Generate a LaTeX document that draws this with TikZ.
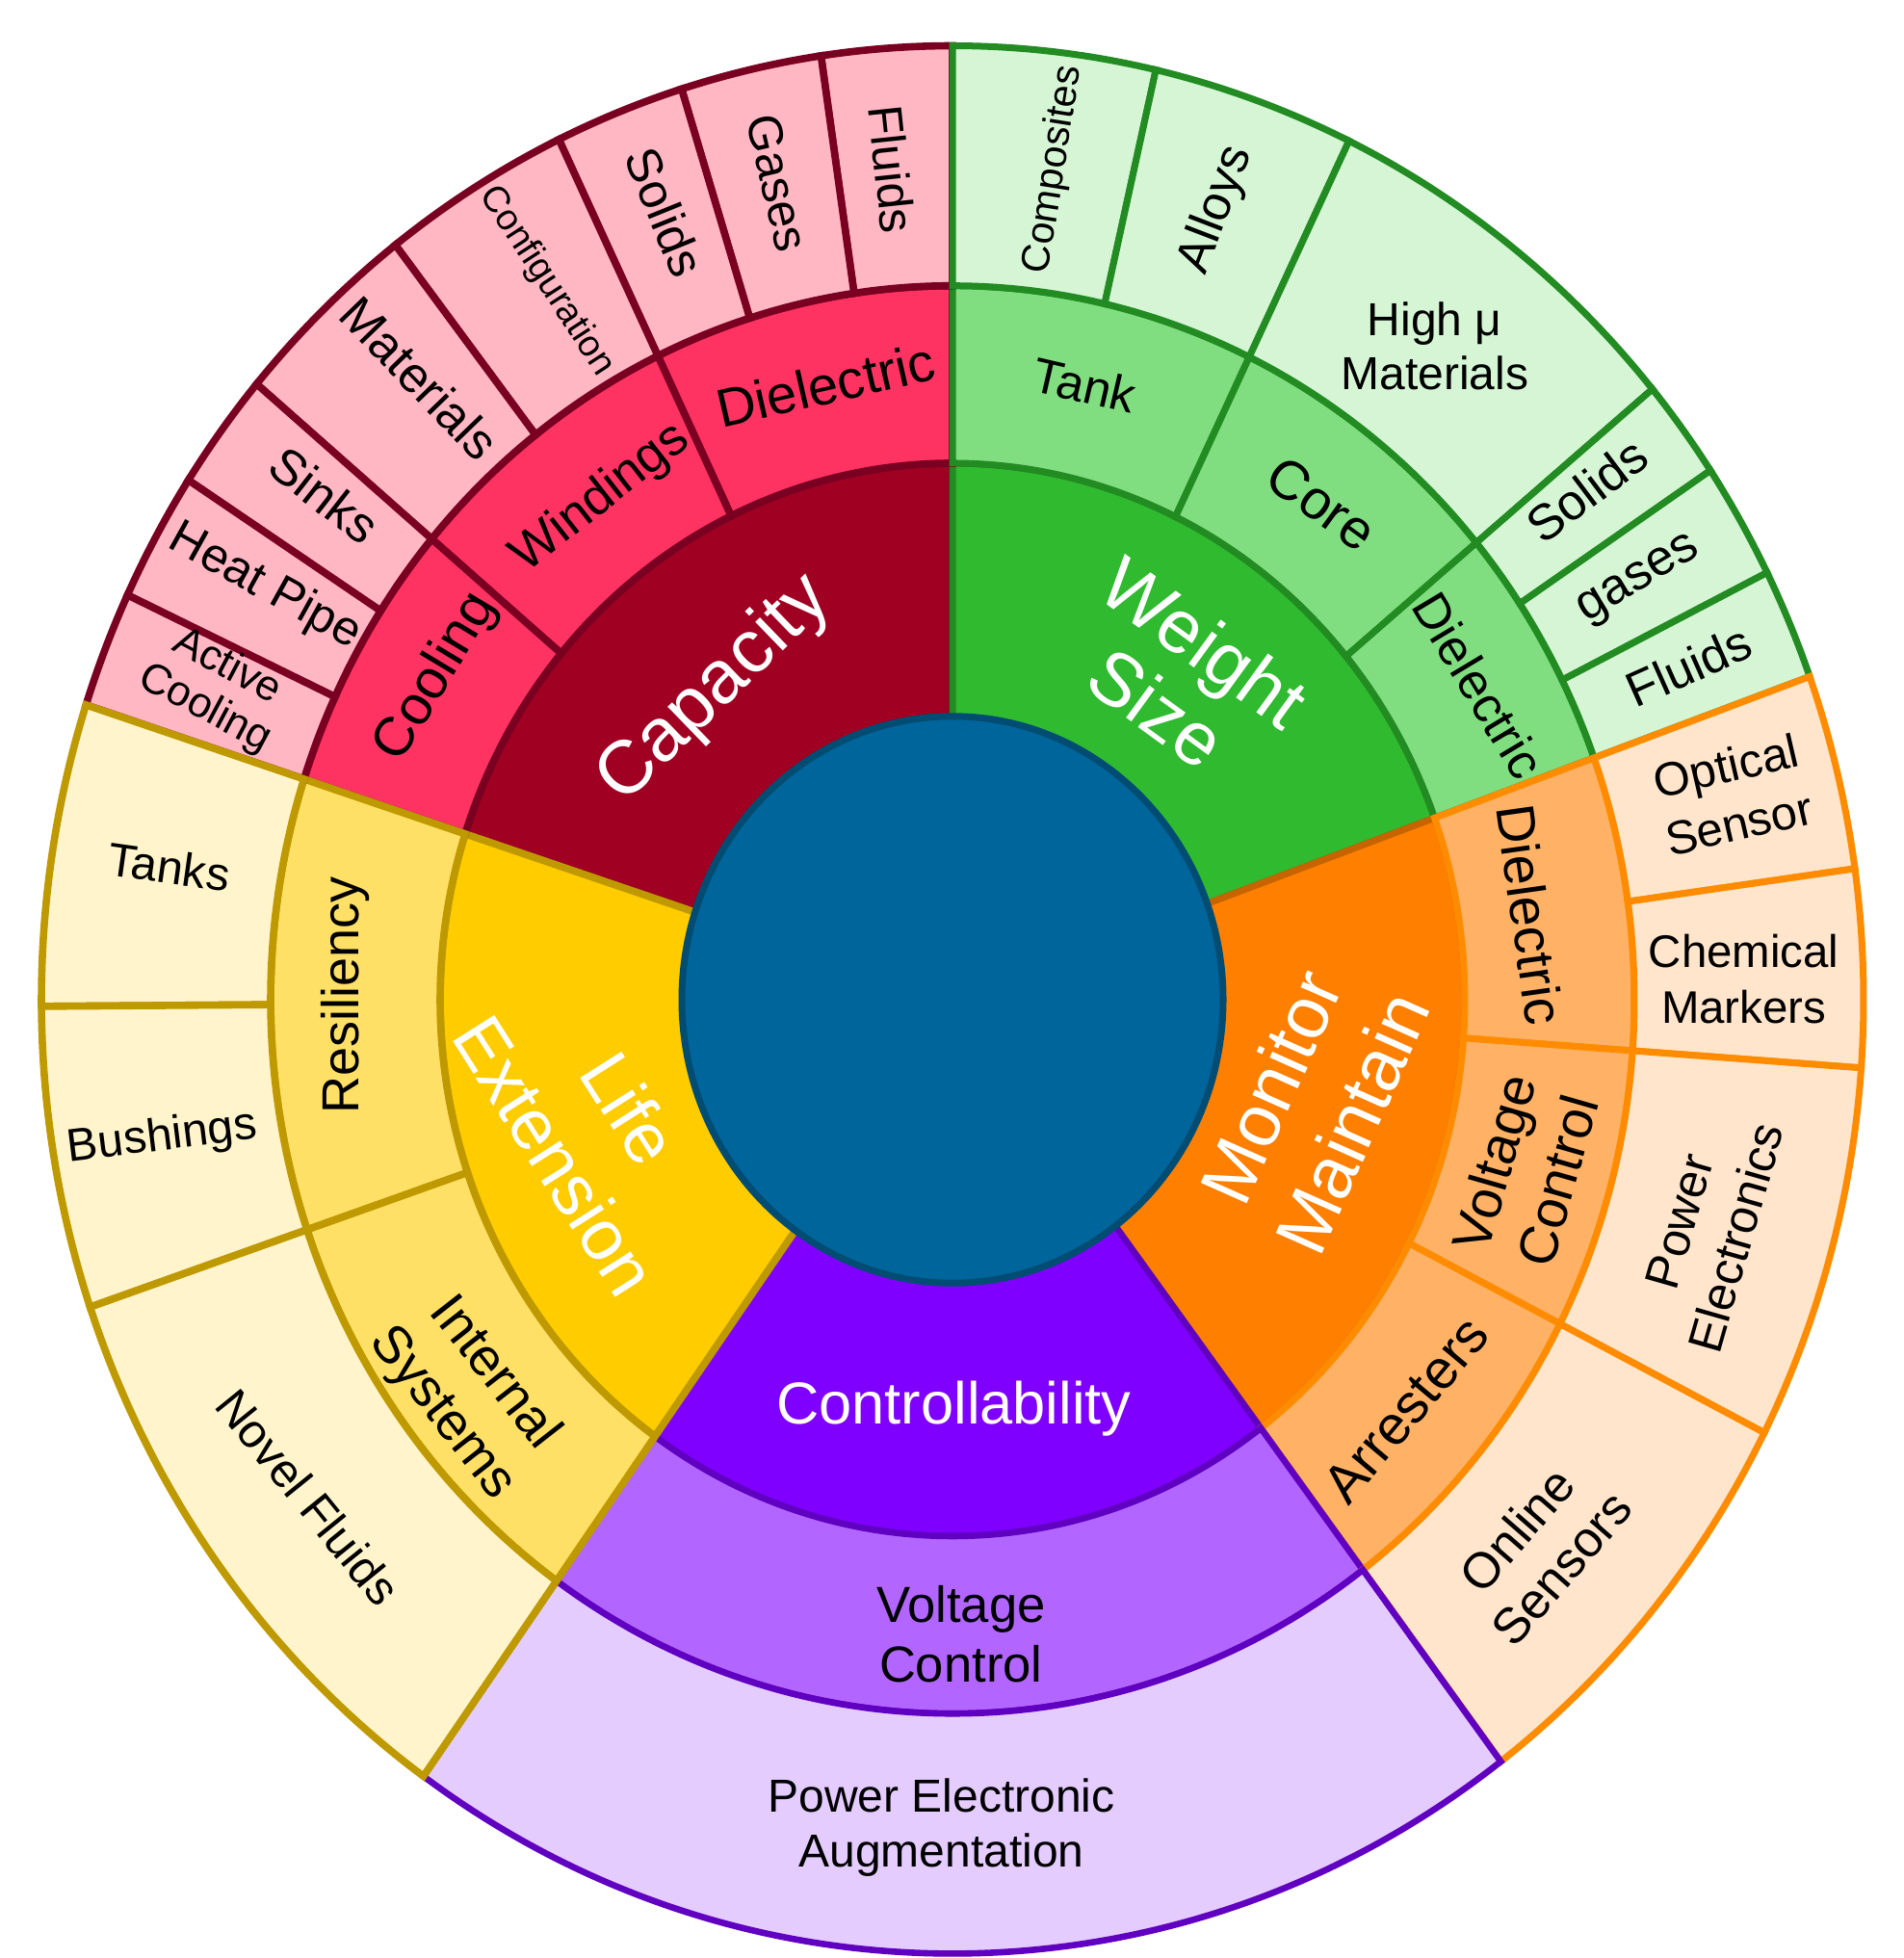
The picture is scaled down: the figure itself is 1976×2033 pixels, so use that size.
\documentclass[tikz,border=0pt]{standalone}
\usepackage{fontspec}
\setmainfont{Liberation Sans}
\definecolor{capA}{HTML}{A00021}
\definecolor{capB}{HTML}{FF3362}
\definecolor{capC}{HTML}{FFB7C3}
\definecolor{capL}{HTML}{7A0021}
\definecolor{wtA}{HTML}{30BA30}
\definecolor{wtB}{HTML}{80DD80}
\definecolor{wtC}{HTML}{D5F5D5}
\definecolor{wtL}{HTML}{228B22}
\definecolor{monA}{HTML}{FF8000}
\definecolor{monB}{HTML}{FFB266}
\definecolor{monC}{HTML}{FFE5CC}
\definecolor{monL}{HTML}{FF8C00}
\definecolor{monD}{HTML}{C86400}
\definecolor{ctlA}{HTML}{8000FF}
\definecolor{ctlB}{HTML}{B266FF}
\definecolor{ctlC}{HTML}{E5CCFF}
\definecolor{ctlL}{HTML}{6000C0}
\definecolor{lifA}{HTML}{FFCC00}
\definecolor{lifB}{HTML}{FFE066}
\definecolor{lifC}{HTML}{FFF4CC}
\definecolor{lifL}{HTML}{BF9900}
\definecolor{ctrF}{HTML}{00659A}
\definecolor{ctrL}{HTML}{004C73}
\newcommand\seg[5]{\path[#1] (#4:#2) arc[start angle=#4,end angle=#5,radius=#2] -- (#5:#3) arc[start angle=#5,end angle=#4,radius=#3] -- cycle;}
\begin{document}
\begin{tikzpicture}[x=0.5pt,y=0.5pt,
  cA/.style={fill=capA,draw=capL,line width=3.8pt},
  cB/.style={fill=capB,draw=capL,line width=3.8pt},
  cC/.style={fill=capC,draw=capL,line width=3.8pt},
  wA/.style={fill=wtA,draw=wtL,line width=3.5pt},
  wB/.style={fill=wtB,draw=wtL,line width=3.5pt},
  wC/.style={fill=wtC,draw=wtL,line width=3.5pt},
  mA/.style={fill=monA,draw=monD,line width=3.5pt},
  mB/.style={fill=monB,draw=monL,line width=3.5pt},
  mC/.style={fill=monC,draw=monL,line width=3.5pt},
  kA/.style={fill=ctlA,draw=ctlL,line width=3.3pt},
  kB/.style={fill=ctlB,draw=ctlL,line width=3.3pt},
  kC/.style={fill=ctlC,draw=ctlL,line width=3.3pt},
  lA/.style={fill=lifA,draw=lifL,line width=3.8pt},
  lB/.style={fill=lifB,draw=lifL,line width=3.8pt},
  lC/.style={fill=lifC,draw=lifL,line width=3.8pt},
  lbl/.style={inner sep=0pt,align=center,text=black},
  wlbl/.style={inner sep=0pt,align=center,text=white}]
\useasboundingbox (0,0) rectangle (1976,2033);
\begin{scope}[shift={(989,995)},yscale=1.047]
% ring 1
\seg{cA}{200}{532}{90}{162}
\seg{wA}{200}{532}{19.8}{90}
\seg{mA}{200}{532}{-53}{19.8}
\seg{kA}{200}{532}{-125.5}{-53}
\seg{lA}{200}{532}{162}{234.5}
% ring 2
\seg{cB}{532}{708}{90}{115.6}
\seg{cB}{532}{708}{115.6}{139.8}
\seg{cB}{532}{708}{139.8}{162}
\seg{wB}{532}{708}{64.2}{90}
\seg{wB}{532}{708}{39.8}{64.2}
\seg{wB}{532}{708}{19.8}{39.8}
\seg{mB}{532}{708}{-4.1}{19.8}
\seg{mB}{532}{708}{-27}{-4.1}
\seg{mB}{532}{708}{-53}{-27}
\seg{kB}{532}{708}{-125.5}{-53}
\seg{lB}{532}{708}{162}{198.8}
\seg{lB}{532}{708}{198.8}{234.5}
% ring 3
\seg{cC}{708}{946}{90}{98.3}
\seg{cC}{708}{946}{98.3}{107.3}
\seg{cC}{708}{946}{107.3}{115.6}
\seg{cC}{708}{946}{115.6}{127.7}
\seg{cC}{708}{946}{127.7}{139.8}
\seg{cC}{708}{946}{139.8}{147}
\seg{cC}{708}{946}{147}{154.9}
\seg{cC}{708}{946}{154.9}{162}
\seg{wC}{708}{946}{77.1}{90}
\seg{wC}{708}{946}{64.2}{77.1}
\seg{wC}{708}{946}{39.8}{64.2}
\seg{wC}{708}{946}{33.7}{39.8}
\seg{wC}{708}{946}{26.6}{33.7}
\seg{wC}{708}{946}{19.8}{26.6}
\seg{mC}{708}{946}{7.9}{19.8}
\seg{mC}{708}{946}{-4.1}{7.9}
\seg{mC}{708}{946}{-27}{-4.1}
\seg{mC}{708}{946}{-53}{-27}
\seg{kC}{708}{946}{-125.5}{-53}
\seg{lC}{708}{946}{162}{180.4}
\seg{lC}{708}{946}{180.4}{198.8}
\seg{lC}{708}{946}{198.8}{234.5}
% centre
\draw[fill=ctrF,draw=ctrL,line width=3.5pt] (0,0) circle[radius=281];
% level 1 labels
\node[wlbl,rotate=44,font=\fontsize{39}{45}\selectfont] (capacity) at (128.8:394) {Capacity};
\node[wlbl,rotate=-36,font=\fontsize{39}{42}\selectfont] (weight) at (53.7:400) {Weight\\Size};
\node[wlbl,rotate=66,font=\fontsize{38}{46}\selectfont] (monitor) at (-15.6:387) {Monitor\\Maintain};
\node[wlbl,font=\fontsize{30.7}{37}\selectfont] (control) at (-89.8:406) {Controllability};
\node[wlbl,rotate=-57.6,font=\fontsize{37}{46}\selectfont] (life) at (199.3:396) {Life\\Extension};
% level 2 labels
\node[lbl,rotate=12.8,font=\fontsize{28}{34}\selectfont] (cdiel) at (102.2:624) {Dielectric};
\node[lbl,rotate=38,font=\fontsize{26.5}{32}\selectfont] (cwind) at (126.3:617) {Windings};
\node[lbl,rotate=59,font=\fontsize{28.5}{34}\selectfont] (ccool) at (149.2:624) {Cooling};
\node[lbl,rotate=-13,font=\fontsize{25.5}{31}\selectfont] (wtank) at (77.3:625) {Tank};
\node[lbl,rotate=-36,font=\fontsize{28.5}{34}\selectfont] (wcore) at (52.1:624) {Core};
\node[lbl,rotate=-59,font=\fontsize{26}{31}\selectfont] (wdiel) at (29.7:629) {Dielectric};
\node[lbl,rotate=-82,font=\fontsize{28}{34}\selectfont] (mdiel) at (8:606) {Dielectric};
\node[lbl,rotate=74,font=\fontsize{28}{34}\selectfont] (mvolt) at (-16:619) {Voltage\\Control};
\node[lbl,rotate=50,font=\fontsize{28.5}{34}\selectfont] (marr) at (-40.8:622) {Arresters};
\node[lbl,font=\fontsize{26.3}{31}\selectfont] (kvolt) at (-89.2:629) {Voltage\\Control};
\node[lbl,rotate=90,font=\fontsize{27}{32}\selectfont] (lres) at (179.6:631) {Resiliency};
\node[lbl,rotate=-52,font=\fontsize{27.5}{34}\selectfont] (lint) at (217.8:637) {Internal\\Systems};
% level 3 labels
\node[lbl,rotate=-84,font=\fontsize{25}{30}\selectfont] (cflu) at (94.35:826) {Fluids};
\node[lbl,rotate=-77,font=\fontsize{25}{30}\selectfont] (cgas) at (102.6:830) {Gases};
\node[lbl,rotate=-68,font=\fontsize{25.5}{30}\selectfont] (csol) at (110.9:836) {Solids};
\node[lbl,rotate=-57,font=\fontsize{19}{23}\selectfont] (cconf) at (120.6:828) {Configuration};
\node[lbl,rotate=-46,font=\fontsize{26}{31}\selectfont] (cmat) at (131.9:828) {Materials};
\node[lbl,rotate=-38,font=\fontsize{26}{31}\selectfont] (csink) at (142.5:822) {Sinks};
\node[lbl,rotate=-29,font=\fontsize{25}{30}\selectfont] (cheat) at (150.2:823) {Heat Pipe};
\node[lbl,rotate=-28,font=\fontsize{22}{24.5}\selectfont] (cact) at (158:825) {Active\\Cooling};
\node[lbl,rotate=81,font=\fontsize{20.6}{25}\selectfont] (wcomp) at (82.7:830) {Composites};
\node[lbl,rotate=69,font=\fontsize{25.5}{30}\selectfont] (walloy) at (70.7:830) {Alloys};
\node[lbl,font=\fontsize{24}{28.2}\selectfont] (whigh) at (52.3:819) {High μ\\Materials};
\node[lbl,rotate=37,font=\fontsize{26}{31}\selectfont] (wsol) at (37.5:830) {Solids};
\node[lbl,rotate=31,font=\fontsize{26}{31}\selectfont] (wgas) at (30.2:826) {gases};
\node[lbl,rotate=24,font=\fontsize{25.5}{30}\selectfont] (wflu) at (23.4:833) {Fluids};
\node[lbl,rotate=13,font=\fontsize{24.5}{30.5}\selectfont] (mopt) at (14.1:835) {Optical\\Sensor};
\node[lbl,font=\fontsize{23.7}{29}\selectfont] (mchem) at (1.4:822) {Chemical\\Markers};
\node[lbl,rotate=74,font=\fontsize{25}{30.5}\selectfont] (mpow) at (-16.2:817) {Power\\Electronics};
\node[lbl,rotate=49,font=\fontsize{26}{30.5}\selectfont] (monl) at (-41.8:817) {Online\\Sensors};
\node[lbl,font=\fontsize{24}{28.4}\selectfont] (kpow) at (-90.8:821) {Power Electronic\\Augmentation};
\node[lbl,rotate=-8,font=\fontsize{24.3}{29}\selectfont] (ltank) at (170.8:824) {Tanks};
\node[lbl,rotate=7,font=\fontsize{24}{29}\selectfont] (lbush) at (189.5:832) {Bushings};
\node[lbl,rotate=-51,font=\fontsize{24.6}{29}\selectfont] (lnov) at (216.4:831) {Novel Fluids};
\end{scope}
\end{tikzpicture}
\end{document}
